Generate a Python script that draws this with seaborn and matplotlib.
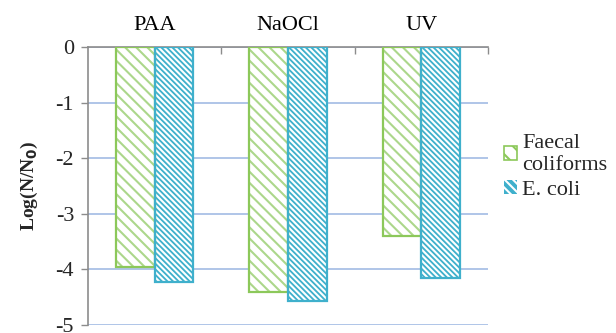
import matplotlib
matplotlib.use("Agg")
import matplotlib.pyplot as plt
from matplotlib.patches import Patch, Rectangle
from matplotlib.ticker import FixedLocator
import seaborn as sns
import pandas as pd

treatments = ["PAA", "NaOCl", "UV"]
faecal_coliforms = [-3.96, -4.41, -3.40]
e_coli = [-4.22, -4.56, -4.16]
series_names = ["Faecal\ncoliforms", "E. coli"]
y_ticks = [0, -1, -2, -3, -4, -5]

GREEN = "#8cc85a"
GREEN_HATCH = "#acd78b"
BLUE = "#3fb0cc"
GRID = "#a9c0e6"
AXIS = "#8c8c8c"

sns.set_theme(style="white")
plt.rcParams["font.family"] = ["Liberation Serif", "DejaVu Serif"]
plt.rcParams["hatch.linewidth"] = 1.5

df = pd.DataFrame({
    "treatment": treatments * 2,
    "value": faecal_coliforms + e_coli,
    "series": [series_names[0]] * 3 + [series_names[1]] * 3,
})

fig = plt.figure(figsize=(6.16, 3.33), dpi=100)
ax = fig.add_axes([88 / 616, 1 - 325 / 333, 400 / 616, 278 / 333])

sns.barplot(data=df, x="treatment", y="value", hue="series", order=treatments,
            hue_order=series_names, palette=[GREEN, BLUE], width=0.58, gap=0,
            legend=False, ax=ax, zorder=3)

FAECAL_HATCH = "\\" * 3
ECOLI_HATCH = "\\" * 6

bars = [p for p in ax.patches if isinstance(p, Rectangle)]
for i, p in enumerate(bars):
    x, w, h = p.get_x(), p.get_width(), p.get_height()
    if i < 3:
        p.set_facecolor("white")
        p.set_edgecolor(GREEN_HATCH)
        p.set_hatch(FAECAL_HATCH)
        edge = GREEN
    else:
        p.set_facecolor(BLUE)
        p.set_edgecolor("white")
        p.set_hatch(ECOLI_HATCH)
        edge = BLUE
    p.set_linewidth(0)
    ax.add_patch(Rectangle((x, 0), w, h, fill=False, edgecolor=edge,
                           linewidth=1.6, zorder=4))

ax.set_ylim(-5, 0)
ax.set_xlim(-0.5, 2.5)
ax.set_yticks(y_ticks)
ax.set_yticklabels([str(t) for t in y_ticks])
ax.yaxis.grid(True, color=GRID, linewidth=1.3, zorder=0)
ax.set_axisbelow(True)

ax.xaxis.set_ticks_position("top")
ax.xaxis.set_label_position("top")
ax.set_xticks(range(len(treatments)))
ax.set_xticklabels(treatments)
ax.xaxis.set_minor_locator(FixedLocator([0.5, 1.5, 2.5]))
ax.tick_params(axis="x", which="major", length=0, pad=9, labelsize=16,
               colors="black")
ax.tick_params(axis="x", which="minor", top=True, direction="in", length=5,
               width=1, color=AXIS)
ax.tick_params(axis="y", left=True, direction="out", length=5, width=1,
               color=AXIS, labelsize=16, pad=5)

for side in ["right", "bottom"]:
    ax.spines[side].set_visible(False)
for side in ["left", "top"]:
    ax.spines[side].set_color(AXIS)
    ax.spines[side].set_linewidth(1.2)

ax.set_xlabel("")
ax.set_ylabel(r"Log(N/N$_\mathbf{0}$)", fontsize=14, fontweight="bold",
              labelpad=11)

handles = [
    Patch(facecolor="white", edgecolor=GREEN, hatch="\\\\", linewidth=1.2),
    Patch(facecolor=BLUE, edgecolor="white", hatch="\\\\\\\\", linewidth=0),
]
fig.legend(handles, series_names, loc="upper left",
           bbox_to_anchor=(0.803, 0.625), frameon=False, fontsize=16,
           handlelength=0.6, handleheight=0.6, handletextpad=0.25,
           labelspacing=0.25, borderaxespad=0)

fig.savefig("out.png", dpi=100)
